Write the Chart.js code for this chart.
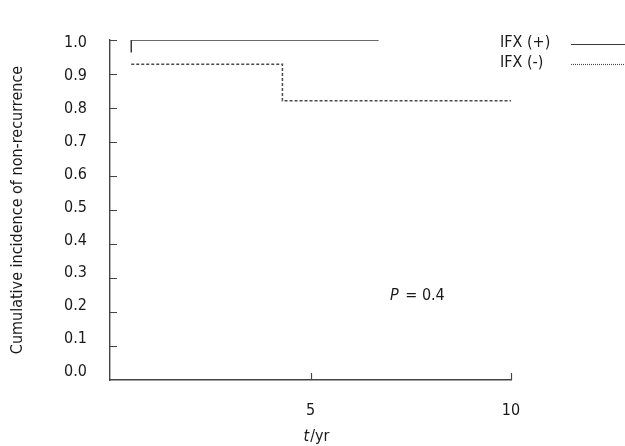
<!DOCTYPE html>
<html>
<head>
<meta charset="utf-8">
<script src="https://cdn.jsdelivr.net/npm/chart.js@4"></script>
<style>
  html, body { margin: 0; padding: 0; background: #fff; }
  #wrap { width: 625px; height: 446px; }
</style>
</head>
<body>
<div id="wrap"><canvas id="c" width="625" height="446"></canvas></div>
<script>
// Kaplan-Meier style step curves: time (years) and cumulative incidence of non-recurrence
const seriesNames = ['IFX (+)', 'IFX (-)'];
const ifxPosTimes = [0.53, 0.53, 6.7];
const ifxPosValues = [0.963, 1.0, 1.0];
const ifxNegTimes = [0.53, 4.3, 10];
const ifxNegValues = [0.929, 0.821, 0.821];

const xTickValues = [5, 10];
const yTickValues = [0, 0.1, 0.2, 0.3, 0.4, 0.5, 0.6, 0.7, 0.8, 0.9, 1.0];
const yAxisTitle = 'Cumulative incidence of non-recurrence';
const pValueText = '0.4';

const FONT = "'DejaVu Sans Condensed', 'DejaVu Sans', sans-serif";
const SIZE = 16;
const INK = '#1a1a1a';
const AXIS = '#444';

function pts(xs, ys) { return xs.map((x, i) => ({ x: x, y: ys[i] })); }

// inward tick marks, legend, P value and x title
const decor = {
  id: 'decor',
  afterDatasetsDraw(chart) {
    const ctx = chart.ctx;
    const xs = chart.scales.x, ys = chart.scales.y;
    const area = chart.chartArea;
    const f = SIZE + 'px ' + FONT, fi = 'italic ' + SIZE + 'px ' + FONT;
    ctx.save();
    ctx.strokeStyle = AXIS;
    ctx.lineWidth = 1.2;
    ctx.beginPath();
    yTickValues.filter(v => v > 0).forEach(v => {
      const py = Math.round(ys.getPixelForValue(v)) + 0.5;
      ctx.moveTo(area.left, py);
      ctx.lineTo(area.left + 7, py);
    });
    xTickValues.forEach(v => {
      const px = Math.round(xs.getPixelForValue(v)) + 0.5;
      ctx.moveTo(px, area.bottom);
      ctx.lineTo(px, area.bottom - 7);
    });
    ctx.stroke();

    // legend: label then line sample
    ctx.fillStyle = INK;
    ctx.font = f;
    ctx.textBaseline = 'middle';
    ctx.textAlign = 'left';
    chart.data.datasets.forEach((ds, i) => {
      const y = 43 + i * 20;
      ctx.fillText(ds.label, 500, y);
      ctx.beginPath();
      ctx.strokeStyle = ds.borderColor;
      ctx.lineWidth = 1.2;
      ctx.setLineDash(i === 0 ? [] : [1, 1]);
      ctx.moveTo(571, Math.round(y + 1) + 0.5);
      ctx.lineTo(625, Math.round(y + 1) + 0.5);
      ctx.stroke();
    });
    ctx.setLineDash([]);

    // P value
    const px0 = 390, py0 = 296;
    ctx.font = fi;
    ctx.fillText('P', px0, py0);
    const wP = ctx.measureText('P').width;
    ctx.font = f;
    ctx.fillText(' = ' + pValueText, px0 + wP + 2, py0);

    // x axis title: italic t over /yr
    ctx.font = fi;
    const wt = ctx.measureText('t').width;
    ctx.font = f;
    const wr = ctx.measureText('/yr').width;
    const cx = 316;
    const sx = cx - (wt + wr) / 2;
    ctx.font = fi;
    ctx.fillText('t', sx, 437);
    ctx.font = f;
    ctx.fillText('/yr', sx + wt + 1, 437);
    ctx.restore();
  }
};

new Chart(document.getElementById('c'), {
  type: 'line',
  data: {
    datasets: [
      {
        label: seriesNames[0],
        data: pts(ifxPosTimes, ifxPosValues),
        borderColor: '#3a3a3a',
        borderWidth: 1.5,
        pointRadius: 0,
        fill: false,
        tension: 0,
        yAxisID: 'y'
      },
      {
        label: seriesNames[1],
        data: pts(ifxNegTimes, ifxNegValues),
        borderColor: '#4a4a4a',
        borderWidth: 1.5,
        borderDash: [3, 2],
        pointRadius: 0,
        fill: false,
        stepped: true,
        yAxisID: 'y'
      }
    ]
  },
  options: {
    responsive: false,
    animation: false,
    devicePixelRatio: 1,
    layout: { padding: { left: 0, right: 114, top: 40, bottom: 0 } },
    plugins: { legend: { display: false }, tooltip: { enabled: false } },
    scales: {
      x: {
        type: 'linear',
        min: 0,
        max: 10,
        afterBuildTicks(scale) { scale.ticks = xTickValues.map(v => ({ value: v })); },
        afterFit(scale) { scale.height = 66; },
        grid: { display: false },
        border: { display: true, color: AXIS, width: 1.4 },
        ticks: { color: INK, font: { family: FONT, size: SIZE }, padding: 13, maxRotation: 0 }
      },
      y: { display: false, min: 0, max: 1 },
      yl: {
        position: 'left',
        // label positions sit on a slightly tighter spacing than the tick marks
        min: -0.0243,
        max: 1.0091,
        afterBuildTicks(scale) { scale.ticks = yTickValues.map(v => ({ value: v })); },
        afterFit(scale) { scale.width = 110; },
        grid: { display: false },
        border: { display: true, color: AXIS, width: 1.4 },
        ticks: {
          color: INK,
          font: { family: FONT, size: SIZE },
          padding: 15,
          callback: v => Number(v).toFixed(1)
        },
        title: {
          display: true,
          text: yAxisTitle,
          color: INK,
          font: { family: FONT, size: SIZE },
          padding: { top: 8, bottom: 0 }
        }
      }
    }
  },
  plugins: [decor]
});
</script>
</body>
</html>
